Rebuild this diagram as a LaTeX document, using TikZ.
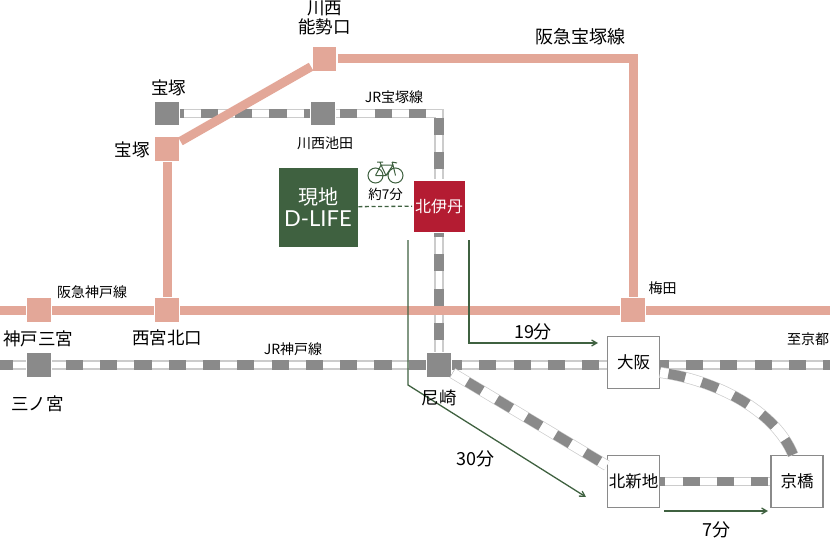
\documentclass[tikz,border=0pt]{standalone}
\usepackage{fontspec}
\setmainfont{Noto Sans CJK JP}
\newfontfamily\dlifefont{Lato}
\usepackage{tikz}
\usetikzlibrary{positioning,arrows}
\definecolor{pinkline}{HTML}{E3A798}
\definecolor{railgray}{HTML}{8A8A8A}
\definecolor{railedge}{HTML}{CCCCCC}
\definecolor{sitegreen}{HTML}{3F6140}
\definecolor{itamired}{HTML}{B41C32}

\begin{document}
\begin{tikzpicture}[x=1pt,y=-1pt,>=angle 60,
   hankyu/.style={draw=white,fill=pinkline,line width=0.8pt,minimum size=24.5pt,inner sep=0pt,outer sep=1.2pt},
   jr/.style={hankyu,fill=railgray},
   bigbox/.style={draw=railgray,fill=white,line width=1.4pt,minimum size=52pt,inner sep=0pt,outer sep=0.7pt,font=\fontsize{16.5}{18}\selectfont},
   pinkrail/.style={draw=pinkline,line width=9pt},
   rail/.style={draw=railedge,line width=9.4pt,
      postaction={draw=white,line width=6.8pt},
      postaction={draw=railgray,line width=9.4pt,dash pattern=on 17.15pt off 17.15pt,dash phase=#1}},
   rail/.default=0pt,
   thinrail/.style={draw=railedge,line width=11pt,
      postaction={draw=white,line width=9.6pt},
      postaction={draw=railgray,line width=10pt,dash pattern=on 17.15pt off 17.15pt,dash phase=#1}},
   thinrail/.default=0pt,
   walk/.style={draw=sitegreen,line width=1.3pt},
   big/.style={font=\fontsize{17.5}{19}\selectfont,inner sep=0pt},
   small/.style={font=\fontsize{14}{16}\selectfont,inner sep=0pt},
   mins/.style={font=\fontsize{18}{20}\selectfont,inner sep=0pt}]
   \useasboundingbox (0,0) rectangle (830,543);

   % stations
   \node[hankyu] (noseguchi) at (324.5,59) {};
   \node[hankyu] (takarazukaH) at (167,149) {};
   \node[hankyu] (nishinomiya) at (167,310) {};
   \node[hankyu] (sannomiyaH) at (39,310) {};
   \node[hankyu] (umeda) at (633,310) {};
   \node[jr] (takarazukaJ) at (167,113.5) {};
   \node[jr] (ikeda) at (323,113.5) {};
   \node[jr] (sannomiyaJ) at (39,365) {};
   \node[jr] (amagasaki) at (439,365) {};
   \node[bigbox] (osaka) at (633.5,362.5) {大阪};
   \node[bigbox] (shinchi) at (633.5,481.5) {北新地};
   \node[bigbox] (kyobashi) at (797,481.5) {京橋};
   \node[fill=itamired,draw=white,line width=0.6pt,minimum size=52pt,inner sep=0pt,outer sep=1pt,text=white,
      font=\fontsize{16}{18}\selectfont] (itami) at (439,206) {北伊丹};
   \node[fill=sitegreen,draw=white,line width=0.6pt,minimum size=80pt,inner sep=0pt,text=white,align=center] (site) at (318,207)
      {\fontsize{20}{24}\selectfont 現地\\[4pt]{\dlifefont\fontsize{22}{24}\selectfont D-LIFE}};
   \coordinate (westH) at (0,310);
   \coordinate (eastH) at (830,310);
   \coordinate (westJ) at (0,365);
   \coordinate (eastJ) at (830,365);

   % JR lines
   \path (westJ) edge[rail=4pt] (sannomiyaJ)
      (sannomiyaJ) edge[rail=21pt] (amagasaki)
      (amagasaki) edge[rail=7.5pt] (westJ -| osaka.west)
      (westJ -| osaka.east) edge[rail=8.5pt] (eastJ)
      (takarazukaJ) edge[rail=14pt] (ikeda)
      (itami) edge[rail=13pt] (amagasaki)
      (amagasaki) edge[thinrail=17pt] (shinchi)
      (shinchi) edge[rail=12pt] (kyobashi);
   \draw[rail=30.5pt] (ikeda) -| (itami);
   \draw[thinrail=26pt] ([yshift=-10pt]osaka.east) .. controls (715,380) and (775,410) .. ([xshift=-4pt]kyobashi.north);

   % Hankyu lines
   \path (westH) edge[pinkrail] (sannomiyaH)
      (sannomiyaH) edge[pinkrail] (nishinomiya)
      (nishinomiya) edge[pinkrail] (umeda)
      (umeda) edge[pinkrail] (eastH)
      (takarazukaH) edge[pinkrail] (nishinomiya)
      (takarazukaH) edge[pinkrail] (noseguchi);
   \draw[pinkrail] (noseguchi) -| (umeda);

   % routes
   \coordinate (routeA) at (469,240);
   \coordinate (routeAend) at (598,343);
   \coordinate (routeB) at (408,240);
   \coordinate (routeBbend) at (408,385);
   \coordinate (routeBend) at (586,497);
   \coordinate (routeC) at (664,511);
   \coordinate (routeCend) at (768,511);
   \draw[walk,->] (routeA) |- (routeAend);
   \draw[walk,->] (routeB) -- (routeBbend) -- (routeBend);
   \draw[walk,->] (routeC) -- (routeCend);
   \draw[walk,dash pattern=on 4pt off 2.6pt] (site) -- (itami);

   % bicycle
   \draw[sitegreen,line width=1pt] (375.5,175.5) circle (7.5) (395.5,175.5) circle (7.5)
      (375.5,175.5) -- (381,165) -- (393,165) -- (395.5,175.5) (375.5,175.5) -- (386,175.5) -- (393,165)
      (381,165) -- (386,175.5) (380,162) -- (381,165) (377,162) -- (383,162) (392,162) -- (393,165) (392,162) -- (397,163);

   % labels
   \node[big,align=center] (lblnose) at (324.5,18) {\fontsize{17.5}{18}\selectfont 川西\\能勢口};
   \node[big] (lbltakaJ) at (168.5,88) {宝塚};
   \node[big] (lbltakaH) at (132,150) {宝塚};
   \node[big] (lblnishi) at (167,338) {西宮北口};
   \node[big] (lblsanH) at (38,339) {神戸三宮};
   \node[big] (lblsanJ) at (37.5,404) {三ノ宮};
   \node[big] (lblama) at (439,398) {尼崎};
   \node[big,font=\fontsize{18}{20}\selectfont] (lblhkt) at (580,37) {阪急宝塚線};
   \node[small] (lblikeda) at (325,143) {川西池田};
   \node[small] (lbljrt) at (394,97) {JR宝塚線};
   \node[small] (lblhkk) at (92,292) {阪急神戸線};
   \node[small] (lbljrk) at (293,349) {JR神戸線};
   \node[small] (lblumeda) at (662.5,288) {梅田};
   \node[small] (lblkyoto) at (808,339) {至京都};
   \node[small,font=\fontsize{13.5}{15}\selectfont] (lblbike) at (385.5,194) {約7分};
   \node[mins] (lbl19) at (533,332) {19分};
   \node[mins] (lbl30) at (475.5,459) {30分};
   \node[mins] (lbl7) at (716,530) {7分};
\end{tikzpicture}
\end{document}
